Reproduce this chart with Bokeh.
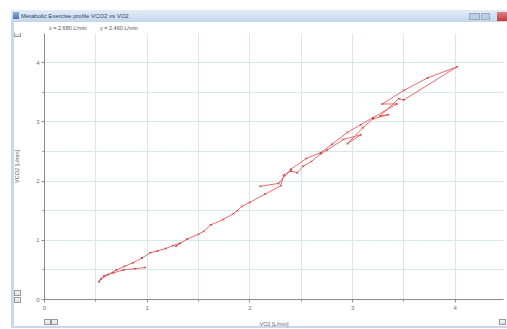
from bokeh.plotting import figure
from bokeh.models import Range1d, SingleIntervalTicker, FixedTicker, Div
from bokeh.layouts import column
from bokeh.embed import file_html
from bokeh.resources import INLINE

# ---- data ----
vo2 = [0.98, 0.88, 0.77, 0.67, 0.58, 0.53, 0.55, 0.62, 0.70, 0.78, 0.86, 0.95,
       1.03, 1.10, 1.18, 1.25, 1.32, 1.28, 1.39, 1.50, 1.55, 1.62, 1.74, 1.84,
       1.88, 1.92, 2.00, 2.15, 2.30, 2.33, 2.40, 2.46, 2.52, 2.60, 2.69, 2.75,
       2.91, 3.08, 2.95, 3.10, 3.20, 3.35, 3.27, 3.45, 3.50, 4.02, 3.73, 3.50,
       3.29, 3.43, 3.20, 3.08, 2.95, 2.80, 2.69, 2.55, 2.40, 2.28, 2.10]
vco2 = [0.54, 0.52, 0.50, 0.45, 0.40, 0.30, 0.35, 0.42, 0.50, 0.56, 0.62, 0.70,
        0.79, 0.82, 0.86, 0.91, 0.95, 0.90, 1.02, 1.10, 1.15, 1.26, 1.35, 1.45,
        1.50, 1.57, 1.64, 1.78, 1.92, 2.10, 2.17, 2.14, 2.25, 2.33, 2.46, 2.52,
        2.70, 2.78, 2.63, 2.90, 3.05, 3.12, 3.10, 3.39, 3.37, 3.93, 3.74, 3.53,
        3.30, 3.30, 3.07, 2.95, 2.82, 2.62, 2.48, 2.38, 2.20, 1.96, 1.91]
x_ticks = [0, 1, 2, 3, 4]
y_ticks = [0, 1, 2, 3, 4]
title_text = "Metabolic Exercise profile VCO2 vs VO2"
readout_x = "x = 2.680 L/min"
readout_y = "y = 2.460 L/min"
x_label = "VO2 [L/min]"
y_label = "VCO2 [L/min]"

FONT = "Liberation Sans"

# ---- window header (title bar + cursor readout) ----
head_html = f"""
<div style="position:relative;width:507px;height:25px;font-family:'{FONT}';">
  <div style="position:absolute;left:11px;top:2px;width:496px;height:12px;
              background:linear-gradient(#e3ecf7,#c4d6eb);"></div>
  <div style="position:absolute;left:11px;top:14px;width:3px;height:11px;background:#c7d8ec;"></div>
  <div style="position:absolute;left:13px;top:4px;width:6px;height:7px;
              background:linear-gradient(#8fb0dc,#4f74ae);"></div>
  <div style="position:absolute;left:21px;top:2px;height:12px;line-height:12px;
              font-size:6px;color:#2d3f66;white-space:nowrap;">{title_text}</div>
  <div style="position:absolute;left:469px;top:5px;width:11px;height:7px;
              background:#bccde3;border:1px solid #93aacb;box-sizing:border-box;"></div>
  <div style="position:absolute;left:481px;top:5px;width:9px;height:7px;
              background:#bccde3;border:1px solid #93aacb;box-sizing:border-box;"></div>
  <div style="position:absolute;left:497px;top:4px;width:10px;height:9px;
              background:linear-gradient(#e58080,#c23a3a);"></div>
  <div style="position:absolute;left:49px;top:16px;height:8px;line-height:8px;
              font-size:5.5px;color:#555;white-space:nowrap;">{readout_x}</div>
  <div style="position:absolute;left:100px;top:16px;height:8px;line-height:8px;
              font-size:5.5px;color:#555;white-space:nowrap;">{readout_y}</div>
</div>
"""
head = Div(text=head_html, width=507, height=25, margin=(8, 0, 0, 0))

# ---- chart ----
p = figure(width=507, height=296, output_backend="svg", toolbar_location=None,
           title=None,
           x_range=Range1d(0, 4.47), y_range=Range1d(0, 4.49),
           min_border_left=44, min_border_right=4, min_border_top=0,
           min_border_bottom=30)
p.outline_line_color = None
p.background_fill_color = "white"
p.border_fill_alpha = 0.0


def btn(x, y, w=7, h=6):
    inner = f"linear-gradient(#f3f3f3,#e2e2e2) {x+1}px {y+1}px / {w-2}px {h-2}px no-repeat"
    outer = f"linear-gradient(#9a9a9a,#9a9a9a) {x}px {y}px / {w}px {h}px no-repeat"
    return [inner, outer]


layers = []
for bx, by in ((14, -2), (14, 257), (14, 264), (44, 286), (51, 286), (499, 286)):
    layers += btn(bx, by)
layers += [
    "linear-gradient(#c7d8ec,#c7d8ec) 11px 0px / 3px 294px no-repeat",
    "linear-gradient(#c7d8ec,#c7d8ec) 11px 293px / 496px 2px no-repeat",
]
p.styles = {"background": ", ".join(layers)}

for ax, ticks in ((p.xaxis[0], x_ticks), (p.yaxis[0], y_ticks)):
    ax.ticker = FixedTicker(ticks=ticks, minor_ticks=[t + 0.5 for t in ticks])
    ax.axis_line_color = "#8a8a8a"
    ax.major_tick_line_color = "#8a8a8a"
    ax.minor_tick_line_color = "#8a8a8a"
    ax.major_tick_out = 3
    ax.major_tick_in = 0
    ax.minor_tick_out = 2
    ax.minor_tick_in = 0
    ax.major_label_text_font = FONT
    ax.major_label_text_font_size = "6px"
    ax.major_label_text_color = "#707070"
    ax.axis_label_text_font = FONT
    ax.axis_label_text_font_size = "5.5px"
    ax.axis_label_text_font_style = "normal"
    ax.axis_label_text_color = "#606060"

p.xaxis.axis_label = x_label
p.yaxis.axis_label = y_label
p.xaxis.major_label_standoff = 3
p.yaxis.major_label_standoff = 2
p.xaxis.axis_label_standoff = 8
p.yaxis.axis_label_standoff = 13

for g in (p.xgrid[0], p.ygrid[0]):
    g.ticker = SingleIntervalTicker(interval=0.5)
    g.grid_line_color = "#d4e8ee"
    g.grid_line_width = 1

p.line(vo2, vco2, line_color="#e8585a", line_width=0.9)
p.scatter(vo2, vco2, marker="x", size=2.5, line_color="#b83030", line_width=0.8)

layout = column(head, p, spacing=0)
open("out.html", "w").write(file_html(layout, INLINE))
